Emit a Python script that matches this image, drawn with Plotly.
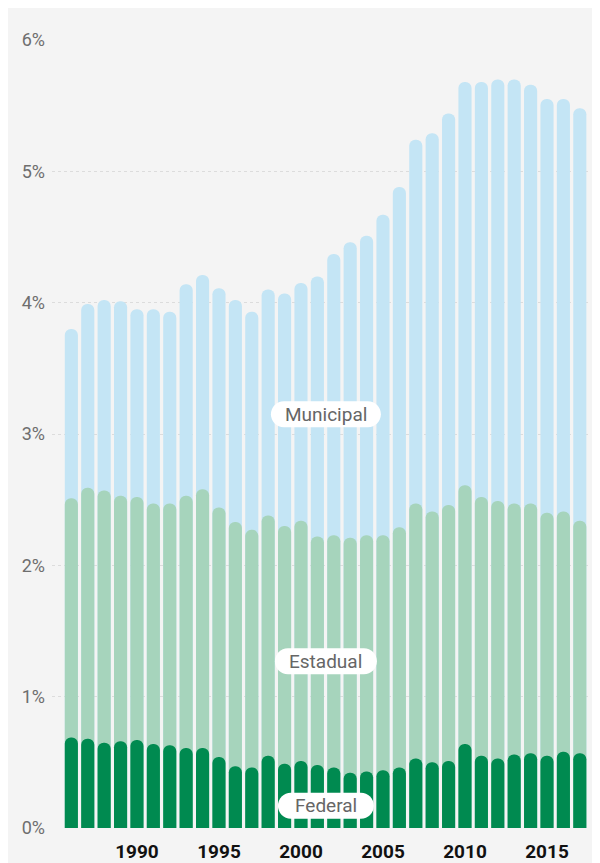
import plotly.graph_objects as go

# Spending share of GDP by level of government, 1986-2017
years = list(range(1986, 2018))

federal = [0.69, 0.68, 0.65, 0.66, 0.67, 0.64, 0.63, 0.61, 0.61, 0.54, 0.47, 0.46, 0.55, 0.49, 0.51, 0.48,
           0.46, 0.42, 0.43, 0.44, 0.46, 0.53, 0.50, 0.51, 0.64, 0.55, 0.53, 0.56, 0.57, 0.55, 0.58, 0.57]
estadual = [1.82, 1.91, 1.92, 1.87, 1.85, 1.83, 1.84, 1.92, 1.97, 1.90, 1.86, 1.81, 1.83, 1.81, 1.83, 1.74,
            1.77, 1.79, 1.80, 1.79, 1.83, 1.94, 1.91, 1.95, 1.97, 1.97, 1.96, 1.91, 1.90, 1.85, 1.83, 1.77]
municipal = [1.29, 1.40, 1.45, 1.48, 1.43, 1.48, 1.46, 1.61, 1.63, 1.67, 1.69, 1.66, 1.72, 1.77, 1.81, 1.98,
             2.14, 2.25, 2.28, 2.44, 2.59, 2.77, 2.88, 2.98, 3.07, 3.16, 3.21, 3.23, 3.19, 3.15, 3.14, 3.14]

y_ticks = [0, 1, 2, 3, 4, 5, 6]
y_labels = ["0%", "1%", "2%", "3%", "4%", "5%", "6%"]
x_ticks = [1990, 1995, 2000, 2005, 2010, 2015]
Y_MAX = 6

# cumulative heights, so every segment gets its own rounded top
cum_estadual = [f + e for f, e in zip(federal, estadual)]
cum_total = [c + m for c, m in zip(cum_estadual, municipal)]

# one y axis per series, so plotly rounds each segment (it only rounds the top of a stack)
series = [
    ("Municipal", cum_total, "#c4e5f5", "y"),
    ("Estadual", cum_estadual, "#a6d4bc", "y2"),
    ("Federal", federal, "#008a50", "y3"),
]

fig = go.Figure()
for name, vals, color, ya in series:
    fig.add_trace(go.Bar(x=years, y=vals, name=name, yaxis=ya, width=0.8,
                         marker=dict(color=color, cornerradius="50%", line_width=0)))

# page body adds an 8px white margin, which gives the white strips top and left
W, H = 592, 855
L, R, T, B = 44, 12, 32, 35


def pill(w, h=26):
    r = h / 2
    a = w / 2 - r
    k = 0.5523 * r
    return (f"M{-a},{-r} L{a},{-r} C{a + k},{-r} {a + r},{-k} {a + r},0 "
            f"C{a + r},{k} {a + k},{r} {a},{r} L{-a},{r} "
            f"C{-a - k},{r} {-a - r},{k} {-a - r},0 C{-a - r},{-k} {-a - k},{-r} {-a},{-r} Z")


labels = [("Municipal", 3.15, 110), ("Estadual", 1.27, 102), ("Federal", 0.17, 96)]

shapes = []
annotations = []
for text, yv, w in labels:
    shapes.append(dict(type="path", xref="paper", yref="paper", xsizemode="pixel", ysizemode="pixel",
                       xanchor=0.511, yanchor=yv / Y_MAX, path=pill(w), fillcolor="white", line_width=0))
    annotations.append(dict(x=0.511, y=yv / Y_MAX, xref="paper", yref="paper", xanchor="center",
                            yanchor="middle", text=text, showarrow=False,
                            font=dict(size=19, color="#666666")))

hidden = dict(range=[0, Y_MAX], overlaying="y", visible=False, showgrid=False)

fig.update_layout(
    width=W, height=H,
    margin=dict(l=L, r=R, t=T, b=B),
    showlegend=False,
    paper_bgcolor="#f4f4f4",
    plot_bgcolor="#f4f4f4",
    font=dict(family="Roboto, sans-serif"),
    shapes=shapes,
    annotations=annotations,
    xaxis=dict(range=[1984.82, 2017.5], tickvals=x_ticks, showgrid=False, zeroline=False, automargin=False,
               ticks="", ticklabelstandoff=10, tickfont=dict(size=19, color="#111111", weight="bold")),
    yaxis=dict(range=[0, Y_MAX], tickvals=y_ticks, ticktext=y_labels, showgrid=True, gridcolor="#dcdcdc",
               griddash="dot", gridwidth=1, zeroline=False, ticks="", ticklabelstandoff=6, automargin=False,
               tickfont=dict(size=18, color="#6e6e6e")),
    yaxis2=hidden,
    yaxis3=hidden,
)

fig.write_html("out.html")
